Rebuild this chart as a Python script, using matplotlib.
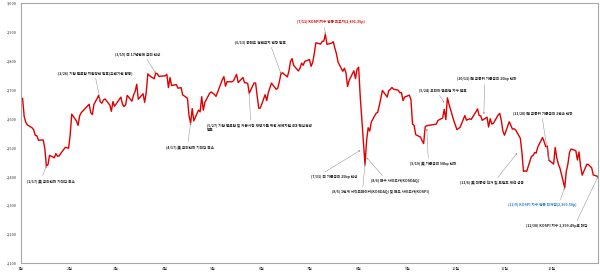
import datetime as dt
import matplotlib
matplotlib.use('Agg')
import matplotlib.pyplot as plt
import matplotlib.dates as mdates

plt.rcParams['font.family'] = ['Noto Sans CJK KR', 'DejaVu Sans']

# KOSPI 2024 daily close (month, day)
days = {
    1: [2, 3, 4, 5, 8, 9, 10, 11, 12, 15, 16, 17, 18, 19, 22, 23, 24, 25, 26, 29, 30, 31],
    2: [1, 2, 5, 6, 7, 8, 13, 14, 15, 16, 19, 20, 21, 22, 23, 26, 27, 28, 29],
    3: [4, 5, 6, 7, 8, 11, 12, 13, 14, 15, 18, 19, 20, 21, 22, 25, 26, 27, 28, 29],
    4: [1, 2, 3, 4, 5, 8, 9, 11, 12, 15, 16, 17, 18, 19, 22, 23, 24, 25, 26, 29, 30],
    5: [2, 3, 7, 8, 9, 10, 13, 14, 16, 17, 20, 21, 22, 23, 24, 27, 28, 29, 30, 31],
    6: [3, 4, 5, 7, 10, 11, 12, 13, 14, 17, 18, 19, 20, 21, 24, 25, 26, 27, 28],
    7: [1, 2, 3, 4, 5, 8, 9, 10, 11, 12, 15, 16, 17, 18, 19, 22, 23, 24, 25, 26, 29, 30, 31],
    8: [1, 2, 5, 6, 7, 8, 9, 12, 13, 14, 16, 19, 20, 21, 22, 23, 26, 27, 28, 29, 30],
    9: [2, 3, 4, 5, 6, 9, 10, 11, 12, 13, 19, 20, 23, 24, 25, 26, 27, 30],
    10: [2, 4, 7, 8, 10, 11, 14, 15, 16, 17, 18, 21, 22, 23, 24, 25, 28, 29, 30, 31],
    11: [1, 4, 5, 6, 7, 8, 11, 12, 13, 14, 15, 18, 19, 20, 21, 22, 25, 26, 27, 28, 29],
    12: [2, 3, 4, 5, 6, 9, 10, 11, 12, 13, 16, 17, 18, 19, 20, 23, 24, 26, 27, 30],
}
closes = {
    1: [2669.81, 2607.31, 2587.02, 2578.08, 2567.82, 2561.24, 2541.98, 2540.27, 2525.05, 2525.99,
        2497.59, 2435.90, 2440.04, 2472.74, 2464.35, 2478.61, 2469.69, 2470.34, 2478.56, 2500.65,
        2498.81, 2497.09],
    2: [2542.46, 2615.31, 2591.31, 2576.20, 2609.58, 2620.32, 2649.64, 2620.42, 2613.80, 2648.76,
        2680.26, 2657.79, 2653.31, 2664.27, 2667.70, 2647.08, 2625.05, 2658.84, 2642.36],
    3: [2674.27, 2649.40, 2641.49, 2647.62, 2680.35, 2660.05, 2681.81, 2693.57, 2718.76, 2666.84,
        2685.84, 2656.17, 2690.14, 2754.86, 2748.56, 2737.57, 2757.09, 2755.11, 2745.82, 2746.63],
    4: [2747.86, 2753.16, 2706.97, 2742.00, 2714.21, 2717.65, 2705.16, 2706.96, 2681.82, 2670.43,
        2609.63, 2584.18, 2634.70, 2591.86, 2629.44, 2623.02, 2675.75, 2628.62, 2656.33, 2687.44,
        2692.06],
    5: [2683.65, 2676.63, 2734.36, 2745.05, 2712.14, 2727.63, 2727.21, 2730.34, 2753.00, 2724.62,
        2742.14, 2724.18, 2723.46, 2721.81, 2687.60, 2722.99, 2722.85, 2677.30, 2635.44, 2636.52],
    6: [2682.52, 2662.10, 2689.50, 2722.67, 2701.17, 2705.31, 2728.17, 2754.89, 2758.42, 2744.10,
        2763.92, 2797.33, 2807.63, 2784.06, 2764.73, 2774.39, 2792.05, 2784.26, 2797.82],
    7: [2804.31, 2780.86, 2794.01, 2824.94, 2862.23, 2857.76, 2867.38, 2867.99, 2891.35, 2857.00,
        2860.92, 2866.09, 2843.46, 2824.35, 2795.46, 2763.51, 2774.22, 2758.71, 2710.65, 2731.90,
        2765.51, 2738.19, 2770.69],
    8: [2777.68, 2676.19, 2441.55, 2522.15, 2568.41, 2556.73, 2588.43, 2618.30, 2621.50, 2644.50,
        2697.23, 2674.36, 2696.63, 2701.13, 2707.67, 2701.69, 2698.01, 2689.25, 2689.83, 2662.28,
        2674.31],
    9: [2681.00, 2664.63, 2580.80, 2576.26, 2544.28, 2535.93, 2523.43, 2513.37, 2572.09, 2575.41,
        2580.80, 2593.37, 2602.01, 2631.68, 2596.32, 2671.57, 2649.78, 2593.27],
    10: [2561.69, 2569.71, 2610.38, 2594.36, 2599.16, 2596.91, 2623.38, 2633.45, 2610.36, 2609.30,
         2593.82, 2604.92, 2570.70, 2599.62, 2581.03, 2583.27, 2612.43, 2617.80, 2593.79, 2556.15],
    11: [2542.36, 2588.97, 2576.88, 2563.51, 2564.63, 2561.15, 2531.66, 2482.57, 2417.08, 2418.86,
         2416.86, 2469.07, 2471.95, 2482.29, 2480.63, 2501.24, 2534.34, 2520.36, 2503.06, 2504.67,
         2455.91],
    12: [2442.51, 2500.10, 2464.00, 2441.85, 2428.16, 2360.58, 2417.84, 2442.01, 2482.12, 2494.46,
         2488.97, 2456.81, 2484.43, 2435.93, 2404.15, 2442.01, 2440.52, 2429.67, 2404.77, 2399.49],
}

month_labels = [f'{m}월' for m in range(1, 13)]
y_ticks = list(range(2100, 3001, 100))

# (text, tip date, tip value, text center px (x, y from top), relpos, color)
notes = [
    ('(1/17) 美 금리인하 기대감 축소', (1, 17), 2436, (51, 181), (0.3, 1), '#222222'),
    ('(2/26) 기업 밸류업 지원방안 발표(유관기관 합동)', (2, 20), 2662, (95, 73), (0.5, 0), '#222222'),
    ('(3/19) 日 17년만에 금리 인상', (3, 26), 2757, (138, 54), (0.65, 0), '#222222'),
    ('(4/17) 美 금리인하 기대감 축소', (4, 17), 2584, (190, 147), (0.45, 1), '#222222'),
    ('(5/27) 기업 밸류업 및 자본시장 재평가를 위한 세제지원 4대 핵심전략\n발표', (5, 24), 2690, (259, 128),
     (0.42, 1), '#222222'),
    ('(6/13) 공매도 전면금지 연장 발표', (6, 13), 2755, (260, 42), (0.7, 0), '#222222'),
    ('(7/11) KOSPI지수 연중 최고치(2,891.35p)', (7, 11), 2891.35, (331, 22), (0.4, 0), '#e00000'),
    ('(7/31) 日 기준금리 25bp 인상', (8, 2), 2490, (334, 177), (0.2, 1), '#222222'),
    ('(8/5) 1단계 서킷브레이커(KOSDAQ) 및 매도 사이드카(KOSPI)', (8, 5), 2441.55, (381, 192), (0.31, 1),
     '#222222'),
    ('(8/6) 매수 사이드카(KOSDAQ)', (8, 6), 2465, (395, 181), (0.3, 1), '#222222'),
    ('(9/19) 美 기준금리 50bp 인하', (9, 13), 2565, (433, 164), (0.4, 1), '#222222'),
    ('(9/24) 코리아 밸류업 지수 발표', (9, 24), 2655, (443, 90), (0.38, 0), '#222222'),
    ('(10/11) 韓 금통위 기준금리 25bp 인하', (10, 19), 2615, (487, 79), (0.46, 0), '#222222'),
    ('(11/28) 韓 금통위 기준금리 2연속 인하', (11, 29), 2456, (543, 113), (0.48, 0), '#222222'),
    ('(11/6) 美 대통령 선거 및 트럼프 재선 성공', (11, 9), 2481, (492, 183), (0.55, 1), '#222222'),
    ('(12/9) KOSPI 지수 연중 최저점(2,360.58p)', (12, 9), 2360.58, (542, 205), (0.75, 1), '#2a7ad2'),
    ('(12/30) KOSPI 지수 2,399.49p로 마감', (12, 30), 2399.49, (557, 226), (0.8, 1), '#222222'),
]

dates, values = [], []
for m in range(1, 13):
    for d, v in zip(days[m], closes[m]):
        dates.append(dt.date(2024, m, d))
        values.append(v)

W, H = 600, 274
fig = plt.figure(figsize=(W / 100, H / 100), dpi=100)
ax = fig.add_axes([21 / W, 1 - 263 / H, 577 / W, 260 / H])

ax.plot(dates, values, color='#e00000', lw=1.0)

ax.set_ylim(2100, 3000)
ax.set_yticks(y_ticks)
ax.set_yticklabels([f'{v:,}' for v in y_ticks])
ax.set_xlim(dt.date(2024, 1, 1), dt.date(2024, 12, 30))
ax.set_xticks([dt.date(2024, m, 1) for m in range(1, 13)])
ax.set_xticklabels(month_labels)
ax.tick_params(axis='both', length=0, labelsize=2.8, colors='#333333', pad=3)
for s in ax.spines.values():
    s.set_color('#a6a6a6')
    s.set_linewidth(0.8)

for txt, (m, d), v, (px, py), rel, clr in notes:
    ax.annotate(txt, xy=(dt.date(2024, m, d), v), xycoords='data',
                xytext=(px, H - py), textcoords='figure pixels',
                ha='center', va='center', fontsize=2.6, fontweight='bold', color=clr,
                linespacing=1.3, multialignment='left',
                arrowprops=dict(arrowstyle='-|>', color='#8c8c8c', lw=0.35,
                                mutation_scale=2, relpos=rel, shrinkA=0.5, shrinkB=0))

fig.savefig('out.png', dpi=100)
